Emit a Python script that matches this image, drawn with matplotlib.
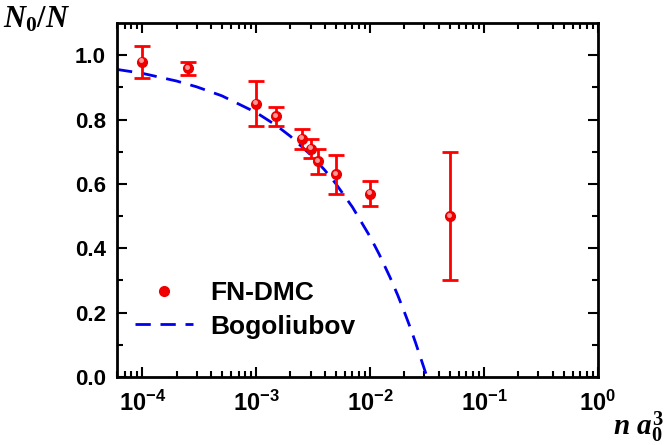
import numpy as np
import matplotlib.pyplot as plt
from matplotlib.ticker import FuncFormatter
from matplotlib.transforms import ScaledTranslation

plt.rcParams['font.family'] = ['Liberation Sans', 'DejaVu Sans']
plt.rcParams['font.weight'] = 'bold'
plt.rcParams['mathtext.fontset'] = 'custom'
plt.rcParams['mathtext.it'] = 'Liberation Serif:bold:italic'
plt.rcParams['mathtext.rm'] = 'Liberation Serif:bold'
plt.rcParams['mathtext.sf'] = 'Liberation Sans:bold'

# FN-DMC data
na3 = [1e-4, 2.5e-4, 1e-3, 1.5e-3, 2.5e-3, 3e-3, 3.5e-3, 5e-3, 1e-2, 5e-2]
n0 = [0.98, 0.96, 0.85, 0.81, 0.74, 0.71, 0.67, 0.63, 0.57, 0.50]
err = [0.05, 0.02, 0.07, 0.03, 0.03, 0.03, 0.04, 0.06, 0.04, 0.20]

# Bogoliubov curve
bog_x = [6e-5, 1e-4, 2e-4, 3e-4, 5e-4, 1e-3, 1.5e-3, 2e-3, 3e-3, 4e-3, 5e-3,
         7e-3, 1e-2, 1.2e-2, 1.5e-2, 1.75e-2, 2e-2, 2.25e-2, 2.5e-2, 2.8e-2, 3.16e-2]
bog_y = [0.956, 0.944, 0.920, 0.902, 0.874, 0.822, 0.782, 0.748, 0.691, 0.643, 0.601,
         0.528, 0.436, 0.382, 0.309, 0.254, 0.202, 0.154, 0.108, 0.056, 0.0]

fig = plt.figure(figsize=(6.65, 4.45), dpi=100)
ax = fig.add_axes([0.176, 0.153, 0.723, 0.795])

ax.plot(bog_x, bog_y, color='#0000ee', lw=2, ls=(0, (5.5, 3.5)), label='Bogoliubov')
ax.errorbar(na3, n0, yerr=err, fmt='none', ecolor='#ff0000', elinewidth=2,
            capsize=6, capthick=2)
ax.plot(na3, n0, 'o', color='#ee0000', ms=7, label='FN-DMC', zorder=5)
# little highlight on the spheres
hl = ax.transData + ScaledTranslation(-1/100, 1.5/100, fig.dpi_scale_trans)
ax.plot(na3, n0, 'o', color='#ff9999', ms=2.5, zorder=6, transform=hl)

ax.set_xscale('log')
ax.set_xlim(6e-5, 1)
ax.set_ylim(0, 1.1)
ax.xaxis.set_major_formatter(FuncFormatter(
    lambda v, p: '$\\mathsf{10^{%d}}$' % round(np.log10(v))))
ax.set_yticks([0.0, 0.2, 0.4, 0.6, 0.8, 1.0])
ax.set_yticks(np.arange(0.1, 1.1, 0.2), minor=True)
ax.set_yticklabels(['0.0', '0.2', '0.4', '0.6', '0.8', '1.0'])

for s in ax.spines.values():
    s.set_linewidth(2)
ax.tick_params(which='both', direction='in', top=True, right=True, width=1.5)
ax.tick_params(which='major', length=7)
ax.tick_params(which='minor', length=4)
ax.tick_params(axis='y', labelsize=16, pad=8)
ax.tick_params(axis='x', labelsize=17, pad=10)

h, l = ax.get_legend_handles_labels()
ax.legend([h[1], h[0]], [l[1], l[0]], loc='upper left', bbox_to_anchor=(0.037, 0.27),
          frameon=False, fontsize=19, handlelength=2.2, handletextpad=0.65,
          labelspacing=0.35, borderpad=0, borderaxespad=0)

fig.text(0.005, 0.99, '$N_0/N$', fontsize=22, va='top', ha='left')
fig.text(0.998, 0.0, '$n\\ a_0^3$', fontsize=21, va='bottom', ha='right')

fig.savefig('out.png', dpi=100)
